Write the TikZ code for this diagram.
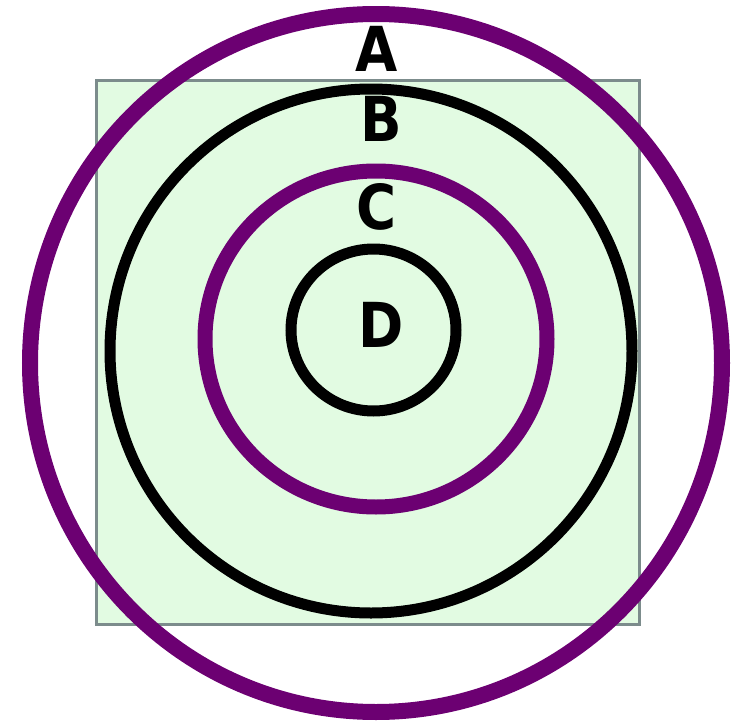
\documentclass[tikz,border=0pt]{standalone}
\usepackage{fontspec}
\usepackage{graphicx}
\newfontfamily\lblfont{DejaVu Sans}
\definecolor{ringpurple}{HTML}{6C0072}
\definecolor{boxgreen}{HTML}{E2FBE2}
\definecolor{boxgray}{HTML}{7C8C8C}
\tikzset{
  purplering/.style={draw=ringpurple, line width=16pt},
  blackring/.style={draw=black, line width=11pt},
  ringlabel/.style={inner sep=0pt, font=\lblfont\bfseries\fontsize{62}{62}\selectfont}
}
\begin{document}
\begin{tikzpicture}[x=1pt,y=-1pt]
\useasboundingbox (0,0) rectangle (732,723);
% square
\draw[fill=boxgreen, draw=boxgray, line width=3pt] (96,80) rectangle (639,624);
% rings
\draw[purplering] (376,363) ellipse [x radius=346, y radius=349];
\draw[blackring] (371,351) ellipse [x radius=261, y radius=262];
\draw[purplering, line width=15pt] (376,339) ellipse [x radius=171, y radius=168];
\draw[blackring] (373.5,330) ellipse [x radius=82.5, y radius=81];
% labels
\node[ringlabel] (la) at (377,49) {\scalebox{0.88}[1]{A}};
\node[ringlabel] (lb) at (381,119) {\scalebox{0.88}[1]{B}};
\node[ringlabel] (lc) at (377,207) {\scalebox{0.88}[1]{C}};
\node[ringlabel] (ld) at (381,325) {\scalebox{0.88}[1]{D}};
\end{tikzpicture}
\end{document}
